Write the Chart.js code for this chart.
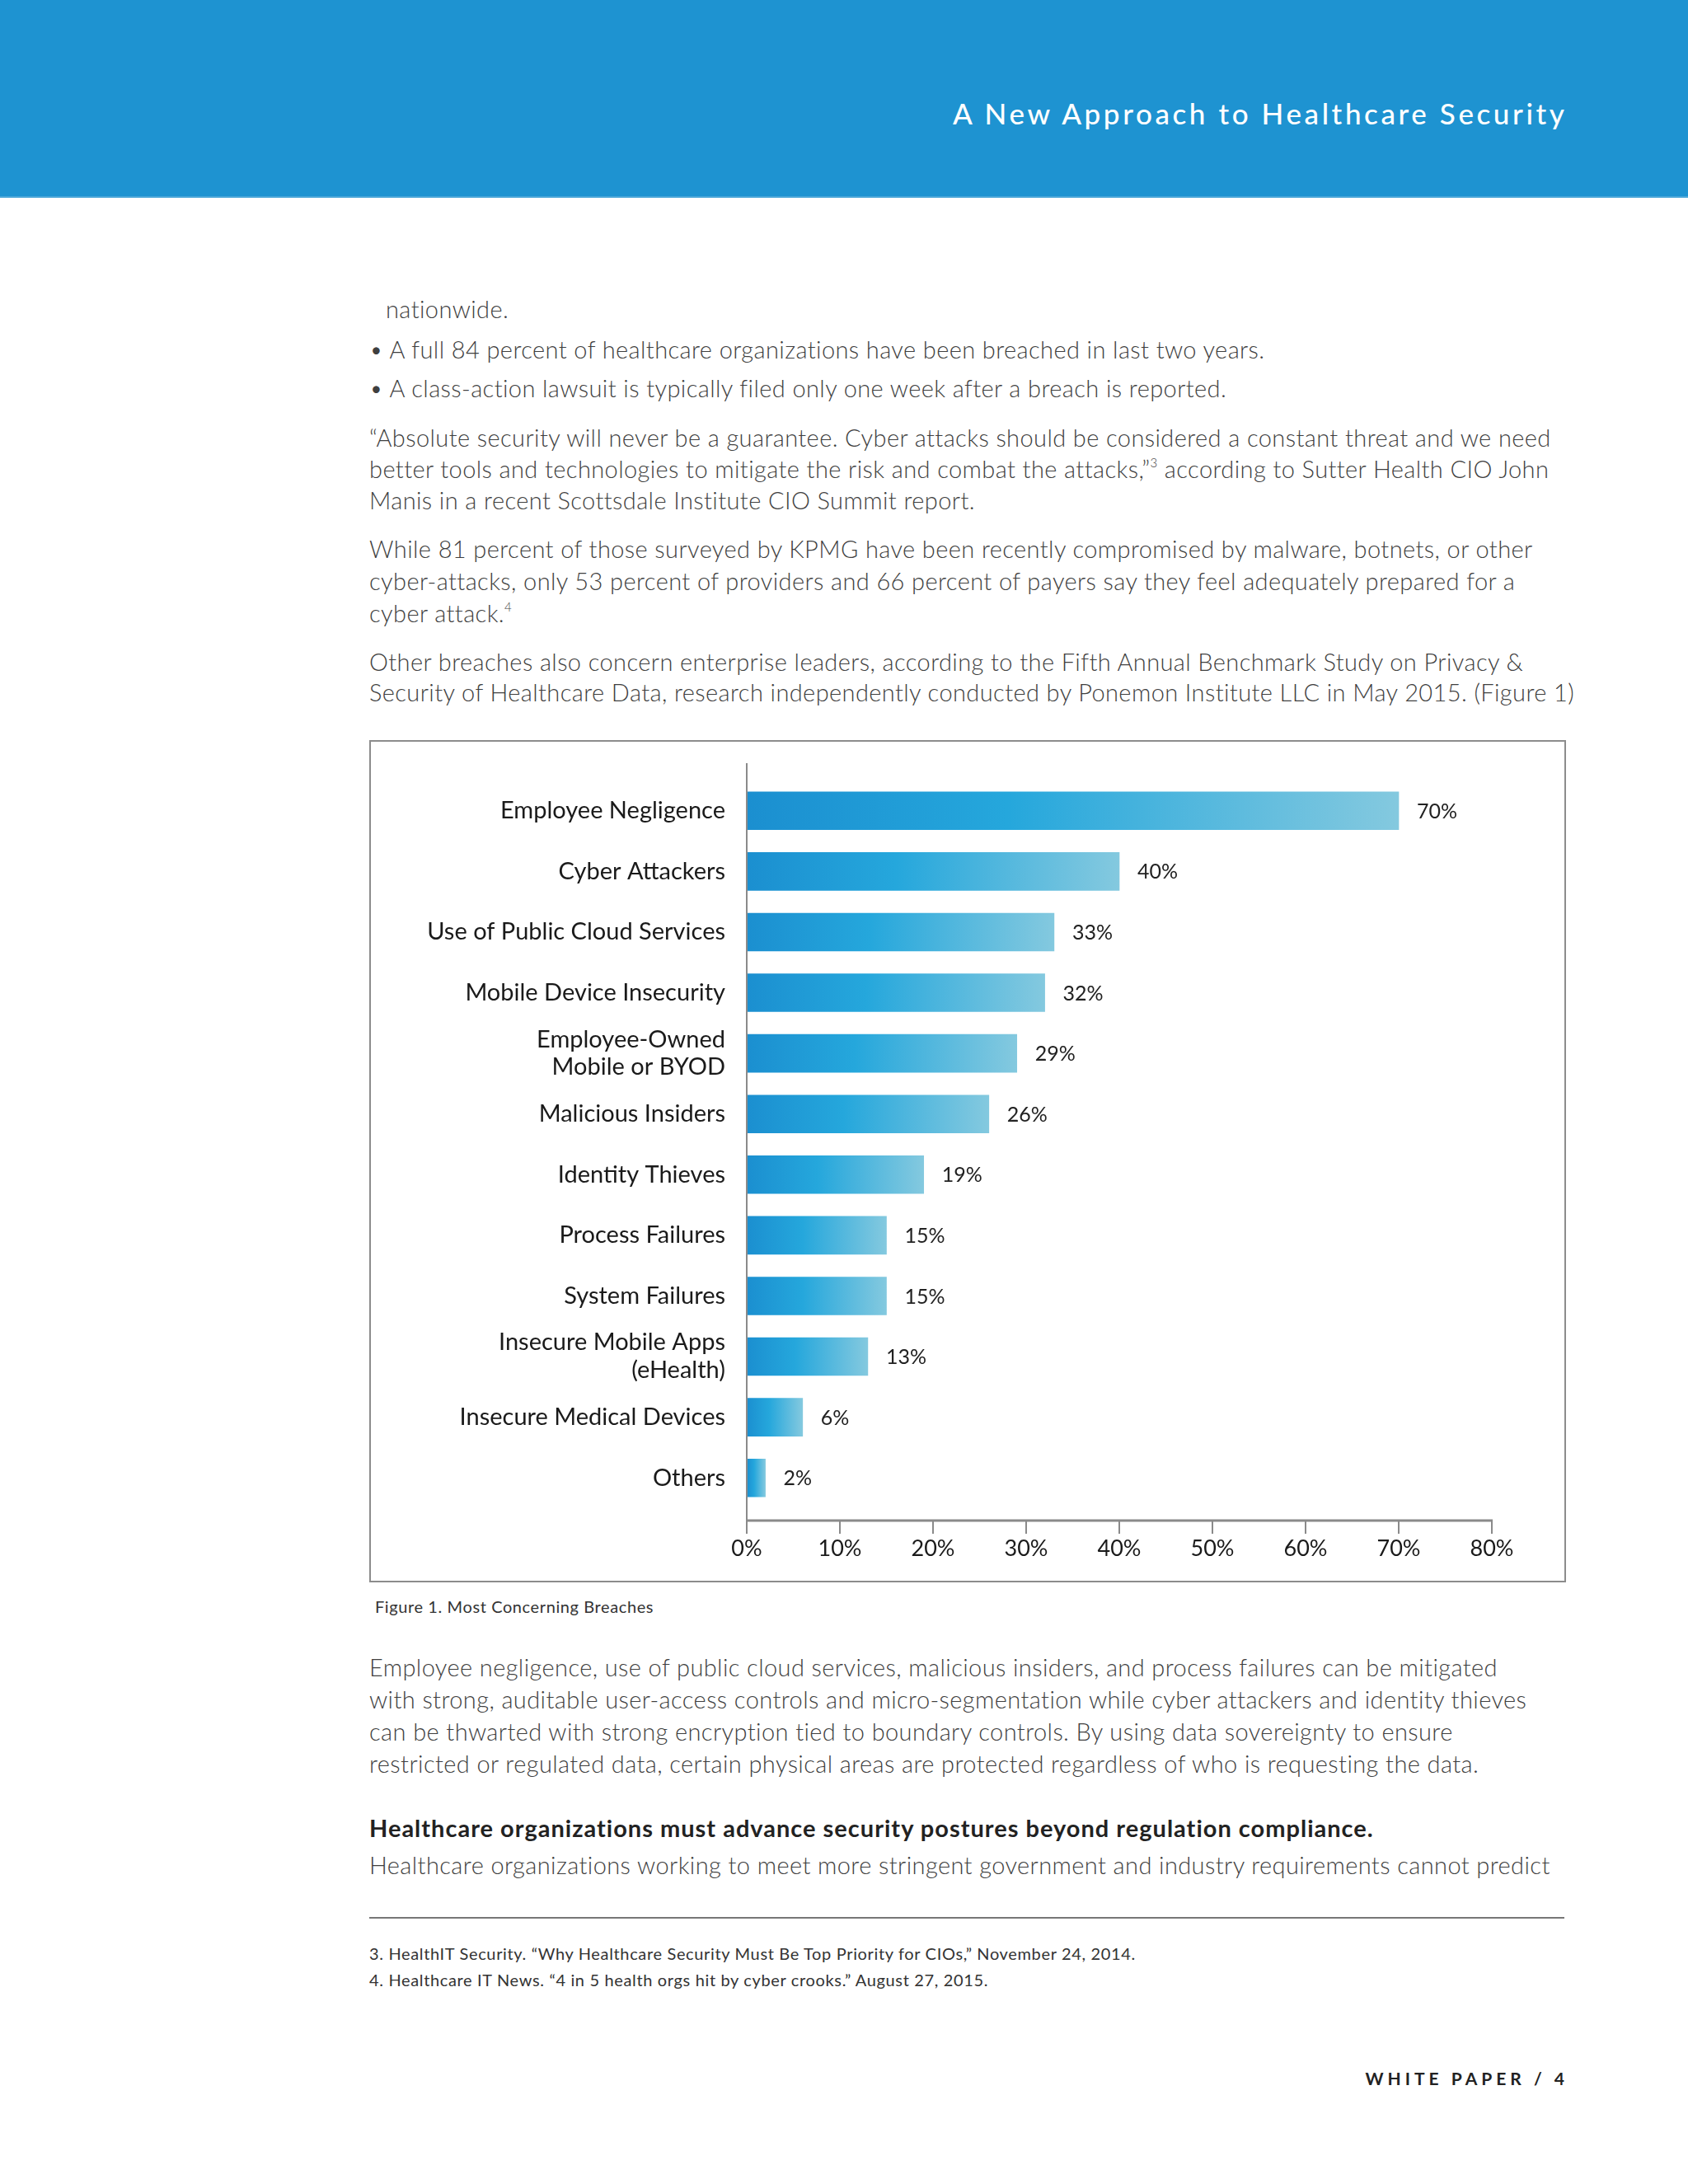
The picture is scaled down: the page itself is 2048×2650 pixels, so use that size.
<!DOCTYPE html>
<html>
<head>
<meta charset="utf-8">
<script src="https://cdn.jsdelivr.net/npm/chart.js@4.4.1/dist/chart.umd.min.js"></script>
<style>
  html, body { margin: 0; padding: 0; background: #fff; }
  body { width: 2048px; height: 2650px; position: relative; overflow: hidden; font-family: 'Lato', sans-serif; }
  .header { position: absolute; left: 0; top: 0; width: 2048px; height: 238px; background: #1e93d1; border-bottom: 2px solid #4aa6d8; }
  .title { position: absolute; right: 150px; top: 113px; line-height: 48px; font-size: 35px; font-weight: 500; color: #fff; letter-spacing: 3.6px; white-space: nowrap; margin-right: -3.6px; }
  .ln { position: absolute; left: 448px; white-space: nowrap; font-size: 29px; line-height: 40px; font-weight: 300; color: #3f3f3f; letter-spacing: 0.4px; }
  .ln sup { font-size: 15px; line-height: 0; position: relative; top: -2px; }
  .bold { font-weight: 700; color: #222; letter-spacing: 1px; }
  .box { position: absolute; left: 448px; top: 898px; width: 1448px; height: 1018px; border: 2px solid #8c8c8c; }
  .cap { position: absolute; left: 455px; top: 1937px; font-size: 20px; line-height: 24px; color: #333; white-space: nowrap; letter-spacing: 0.6px; }
  .rule { position: absolute; left: 448px; top: 2326px; width: 1450px; height: 2px; background: #777; }
  .fn { position: absolute; left: 448px; font-size: 20px; line-height: 24px; color: #333; white-space: nowrap; letter-spacing: 0.65px; }
  .wp { position: absolute; right: 150px; top: 2508px; font-size: 21px; line-height: 28px; font-weight: 700; letter-spacing: 5px; color: #222; white-space: nowrap; margin-right: -5px; }
  #chartWrap { position: absolute; left: 450px; top: 901px; width: 1446px; height: 1015px; }
</style>
</head>
<body>
<div class="header"><div class="title">A New Approach to Healthcare Security</div></div>

<div class="ln" style="left:468px; top:355px">nationwide.</div>
<div class="ln" style="top:404px">• A full 84 percent of healthcare organizations have been breached in last two years.</div>
<div class="ln" style="top:451px">• A class-action lawsuit is typically filed only one week after a breach is reported.</div>

<div class="ln" style="top:511px">“Absolute security will never be a guarantee. Cyber attacks should be considered a constant threat and we need</div>
<div class="ln" style="top:549px">better tools and technologies to mitigate the risk and combat the attacks,”<sup>3</sup> according to Sutter Health CIO John</div>
<div class="ln" style="top:587px">Manis in a recent Scottsdale Institute CIO Summit report.</div>

<div class="ln" style="top:646px">While 81 percent of those surveyed by KPMG have been recently compromised by malware, botnets, or other</div>
<div class="ln" style="top:685px">cyber-attacks, only 53 percent of providers and 66 percent of payers say they feel adequately prepared for a</div>
<div class="ln" style="top:724px">cyber attack.<sup>4</sup></div>

<div class="ln" style="top:783px">Other breaches also concern enterprise leaders, according to the Fifth Annual Benchmark Study on Privacy &amp;</div>
<div class="ln" style="top:820px">Security of Healthcare Data, research independently conducted by Ponemon Institute LLC in May 2015. (Figure 1)</div>

<div class="box"></div>
<div id="chartWrap"><canvas id="chart-breaches" width="1446" height="1015"></canvas></div>

<div class="cap">Figure 1. Most Concerning Breaches</div>

<div class="ln" style="top:2003px">Employee negligence, use of public cloud services, malicious insiders, and process failures can be mitigated</div>
<div class="ln" style="top:2042px">with strong, auditable user-access controls and micro-segmentation while cyber attackers and identity thieves</div>
<div class="ln" style="top:2081px">can be thwarted with strong encryption tied to boundary controls. By using data sovereignty to ensure</div>
<div class="ln" style="top:2120px">restricted or regulated data, certain physical areas are protected regardless of who is requesting the data.</div>

<div class="ln bold" style="top:2198px">Healthcare organizations must advance security postures beyond regulation compliance.</div>
<div class="ln" style="top:2243px">Healthcare organizations working to meet more stringent government and industry requirements cannot predict</div>

<div class="rule"></div>
<div class="fn" style="top:2358px">3. HealthIT Security. “Why Healthcare Security Must Be Top Priority for CIOs,” November 24, 2014.</div>
<div class="fn" style="top:2390px">4. Healthcare IT News. “4 in 5 health orgs hit by cyber crooks.” August 27, 2015.</div>

<div class="wp">WHITE PAPER / 4</div>

<script>
categories = [
    'Employee Negligence',
    'Cyber Attackers',
    'Use of Public Cloud Services',
    'Mobile Device Insecurity',
    ['Employee-Owned', 'Mobile or BYOD'],
    'Malicious Insiders',
    'Identity Thieves',
    'Process Failures',
    'System Failures',
    ['Insecure Mobile Apps', '(eHealth)'],
    'Insecure Medical Devices',
    'Others'
]

breach_values = [70, 40, 33, 32, 29, 26, 19, 15, 15, 13, 6, 2]

x_ticks = [0, 10, 20, 30, 40, 50, 60, 70, 80]

axis_color = '#8a8a8a'
label_color = '#1a1a1a'

Chart.defaults.font.family = 'Lato'
Chart.defaults.color = label_color

// each bar gets its own dark-to-light gradient along its length
function bar_gradient(context) {
    const chart = context.chart
    const x = chart.scales.x
    if (!chart.chartArea || !x) return '#1e9ad6'
    const v = context.raw
    const x0 = x.getPixelForValue(0)
    const x1 = x.getPixelForValue(v)
    const g = chart.ctx.createLinearGradient(x0, 0, x1, 0)
    g.addColorStop(0, '#1b8fd0')
    g.addColorStop(0.4, '#25a7dc')
    g.addColorStop(1, '#84c9df')
    return g
}

// axis lines stick out past the bars, so they are drawn here
const axisLines = {
    id: 'axisLines',
    afterDraw(chart) {
        const ctx = chart.ctx
        const x = chart.scales.x
        const area = chart.chartArea
        const x0 = x.getPixelForValue(0)
        const axisY = area.bottom + 15
        ctx.save()
        ctx.strokeStyle = axis_color
        ctx.lineWidth = 2
        ctx.beginPath()
        ctx.moveTo(x0, area.top - 21)
        ctx.lineTo(x0, axisY)
        ctx.stroke()
        ctx.lineWidth = 3
        ctx.beginPath()
        ctx.moveTo(x0 - 1, axisY)
        ctx.lineTo(x.getPixelForValue(x_ticks[x_ticks.length - 1]) + 1, axisY)
        ctx.stroke()
        ctx.lineWidth = 2
        x_ticks.forEach(t => {
            const px = x.getPixelForValue(t)
            ctx.beginPath()
            ctx.moveTo(px, axisY)
            ctx.lineTo(px, axisY + 16)
            ctx.stroke()
        })
        ctx.restore()
    }
}

const valueLabels = {
    id: 'valueLabels',
    afterDatasetsDraw(chart) {
        const ctx = chart.ctx
        const meta = chart.getDatasetMeta(0)
        ctx.save()
        ctx.font = '400 25px Lato'
        ctx.fillStyle = '#222'
        ctx.textAlign = 'left'
        ctx.textBaseline = 'middle'
        meta.data.forEach((bar, i) => {
            ctx.fillText(breach_values[i] + '%', bar.x + 22, bar.y + 1)
        })
        ctx.restore()
    }
}

breach_chart = new Chart(
    document.getElementById('chart-breaches').getContext('2d'), {
        type: 'bar',
        data: {
            labels: categories,
            datasets: [{
                data: breach_values,
                backgroundColor: bar_gradient,
                borderWidth: 0,
                barThickness: 46
            }]
        },
        options: {
            indexAxis: 'y',
            responsive: false,
            animation: false,
            devicePixelRatio: 1,
            layout: {
                padding: { top: 46, right: 86, left: 0, bottom: 0 }
            },
            plugins: {
                legend: { display: false },
                tooltip: { enabled: false },
                title: { display: false }
            },
            scales: {
                x: {
                    min: 0,
                    max: 80,
                    grid: { display: false },
                    border: { display: false },
                    afterFit: scale => { scale.height = 86 },
                    afterBuildTicks: scale => {
                        scale.ticks = x_ticks.map(v => ({ value: v }))
                    },
                    ticks: {
                        padding: 25,
                        color: label_color,
                        font: { size: 27 },
                        callback: v => v + '%'
                    }
                },
                y: {
                    grid: { display: false },
                    border: { display: false },
                    afterFit: scale => { scale.width = 456 },
                    ticks: {
                        padding: 18,
                        color: label_color,
                        font: { size: 29, lineHeight: 1.17 }
                    }
                }
            }
        },
        plugins: [axisLines, valueLabels]
    });
</script>
</body>
</html>
